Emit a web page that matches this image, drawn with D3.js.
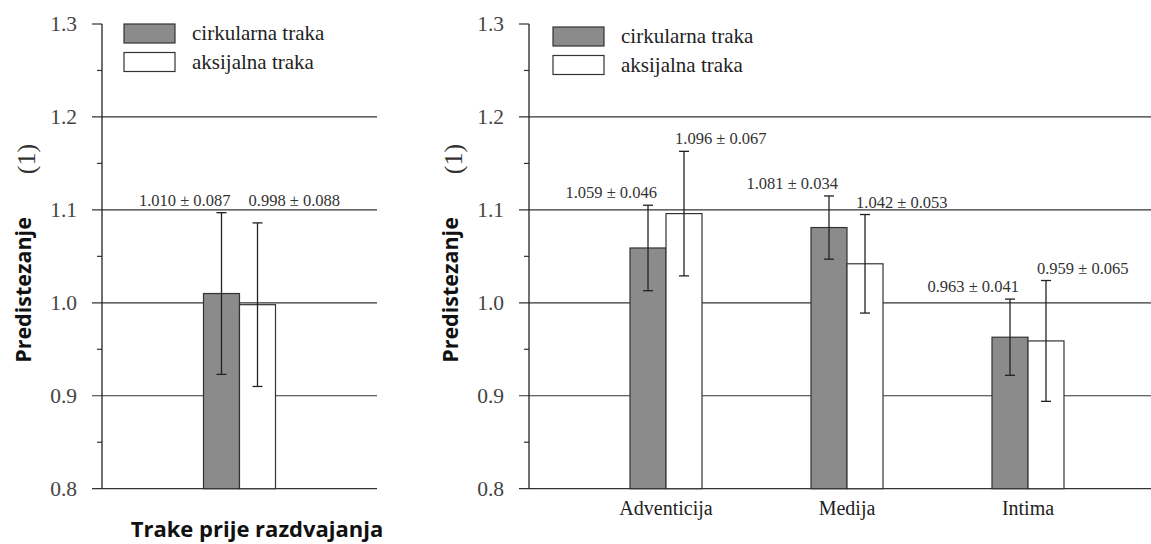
<!DOCTYPE html>
<html>
<head>
<meta charset="utf-8">
<script src="https://cdn.jsdelivr.net/npm/d3@7"></script>
<style>
  body { margin: 0; background: #fff; }
  text { font-family: "Liberation Serif", "Times New Roman", serif; }
  .sans { font-family: "Open Sans", "DejaVu Sans", sans-serif; font-weight: bold; }
</style>
</head>
<body>
<div id="chart"></div>
<script>
// data
const seriesNames = ["cirkularna traka", "aksijalna traka"];
const yTicks = [0.8, 0.9, 1.0, 1.1, 1.2, 1.3];

const leftCategories = [""];
const leftCirc = [1.010];
const leftCircSd = [0.087];
const leftAks = [0.998];
const leftAksSd = [0.088];

const rightCategories = ["Adventicija", "Medija", "Intima"];
const rightCirc = [1.059, 1.081, 0.963];
const rightCircSd = [0.046, 0.034, 0.041];
const rightAks = [1.096, 1.042, 0.959];
const rightAksSd = [0.067, 0.053, 0.065];

let width = 1151, height = 544;
let svg = d3.select("#chart").append("svg")
    .attr("width", width)
    .attr("height", height);

let y = d3.scaleLinear().domain([0.8, 1.3]).range([488.7, 24]);
let colors = ["#8b8b8b", "#ffffff"];
let fmt = d3.format(".3f");

function drawPanel(opt) {
    let g = svg.append("g");
    let x = d3.scalePoint().domain(opt.categories).range([opt.left, opt.right]).padding(opt.pad);
    let inner = d3.scaleBand().domain(seriesNames).range([-36, 36]);

    // grid lines + major ticks
    g.selectAll(".grid").data(yTicks.filter(d => d < 1.25)).join("line")
        .attr("x1", opt.left - 10).attr("x2", Math.min(opt.right, width))
        .attr("y1", d => y(d)).attr("y2", d => y(d))
        .attr("stroke", "#333").attr("stroke-width", 1.2);
    g.append("line")
        .attr("x1", opt.left - 10).attr("x2", opt.left)
        .attr("y1", y(1.3)).attr("y2", y(1.3))
        .attr("stroke", "#333").attr("stroke-width", 1.2);

    // minor ticks
    g.selectAll(".minor").data(d3.range(0.85, 1.3, 0.1)).join("line")
        .attr("x1", opt.left - 5).attr("x2", opt.left)
        .attr("y1", d => y(d)).attr("y2", d => y(d))
        .attr("stroke", "#333").attr("stroke-width", 1.2);

    // axis line
    g.append("line")
        .attr("x1", opt.left).attr("x2", opt.left)
        .attr("y1", y(1.3)).attr("y2", y(0.8))
        .attr("stroke", "#222").attr("stroke-width", 1.3);

    // tick labels
    g.selectAll(".tl").data(yTicks).join("text")
        .attr("x", opt.left - 25).attr("y", d => y(d))
        .attr("dy", "0.32em").attr("text-anchor", "end")
        .style("font-size", "21.5px").attr("fill", "#444")
        .text(d => d.toFixed(1));

    // y titles
    g.append("text").attr("class", "sans")
        .attr("transform", "translate(" + (opt.left - 71) + "," + 290 + ") rotate(-90)")
        .attr("text-anchor", "middle")
        .style("font-size", "21.5px").attr("fill", "#111")
        .text("Predistezanje");
    g.append("text")
        .attr("transform", "translate(" + (opt.left - 67) + "," + 159 + ") rotate(-90)")
        .attr("text-anchor", "middle")
        .style("font-size", "26px").attr("fill", "#333")
        .text("(1)");

    // bars
    let rows = [];
    opt.categories.forEach(function(c, i) {
        rows.push({cat: c, s: seriesNames[0], v: opt.circ[i], sd: opt.circSd[i], k: 0});
        rows.push({cat: c, s: seriesNames[1], v: opt.aks[i], sd: opt.aksSd[i], k: 1});
    });

    g.selectAll(".bar").data(rows).join("rect")
        .attr("x", d => x(d.cat) + inner(d.s))
        .attr("width", inner.bandwidth())
        .attr("y", d => y(d.v))
        .attr("height", d => y(0.8) - y(d.v))
        .attr("fill", d => colors[d.k])
        .attr("stroke", "#333").attr("stroke-width", 1.2);

    // error bars
    let eb = g.selectAll(".eb").data(rows).join("g")
        .attr("transform", d => "translate(" + (x(d.cat) + inner(d.s) + inner.bandwidth() / 2) + ",0)");
    eb.append("line").attr("x1", 0).attr("x2", 0)
        .attr("y1", d => y(d.v - d.sd)).attr("y2", d => y(d.v + d.sd))
        .attr("stroke", "#222").attr("stroke-width", 1.3);
    eb.selectAll(".cap").data(d => [d.v - d.sd, d.v + d.sd]).join("line")
        .attr("x1", -5).attr("x2", 5)
        .attr("y1", d => y(d)).attr("y2", d => y(d))
        .attr("stroke", "#222").attr("stroke-width", 1.3);

    // value labels
    g.selectAll(".vl").data(rows).join("text")
        .attr("x", d => x(d.cat) + inner(d.s) + inner.bandwidth() / 2 + (d.k == 0 ? 9 : -9))
        .attr("y", function(d) {
            if (opt.sharedLabel) {
                let top = d3.max(rows.filter(r => r.cat == d.cat), r => r.v + r.sd);
                return y(top) - 7;
            }
            return y(d.v + d.sd) - 7;
        })
        .attr("text-anchor", d => d.k == 0 ? "end" : "start")
        .style("font-size", "16.5px").attr("fill", "#333")
        .text(d => fmt(d.v) + " \u00b1 " + fmt(d.sd));

    // category labels
    g.selectAll(".cl").data(opt.categories).join("text")
        .attr("x", d => x(d)).attr("y", 515)
        .attr("text-anchor", "middle")
        .style("font-size", "20px").attr("fill", "#222")
        .text(d => d);

    // legend
    let lg = g.selectAll(".lg").data(seriesNames).join("g")
        .attr("transform", (d, i) => "translate(" + opt.legX + "," + (opt.legY + i * 28.5) + ")");
    lg.append("rect").attr("width", 51).attr("height", 19)
        .attr("fill", (d, i) => colors[i])
        .attr("stroke", "#333").attr("stroke-width", 1.2);
    lg.append("text").attr("x", 68).attr("y", 16)
        .style("font-size", "21px").attr("fill", "#222")
        .text(d => d);
}

drawPanel({categories: leftCategories, circ: leftCirc, circSd: leftCircSd, aks: leftAks, aksSd: leftAksSd,
    left: 102, right: 377, pad: 0.5, legX: 124, legY: 24, sharedLabel: true});
drawPanel({categories: rightCategories, circ: rightCirc, circSd: rightCircSd, aks: rightAks, aksSd: rightAksSd,
    left: 529, right: 1165, pad: 0.757, legX: 553, legY: 27, sharedLabel: false});

// x title of left panel
svg.append("text").attr("class", "sans")
    .attr("x", 257).attr("y", 537)
    .attr("text-anchor", "middle")
    .style("font-size", "22px").attr("fill", "#111")
    .text("Trake prije razdvajanja");
</script>
</body>
</html>
